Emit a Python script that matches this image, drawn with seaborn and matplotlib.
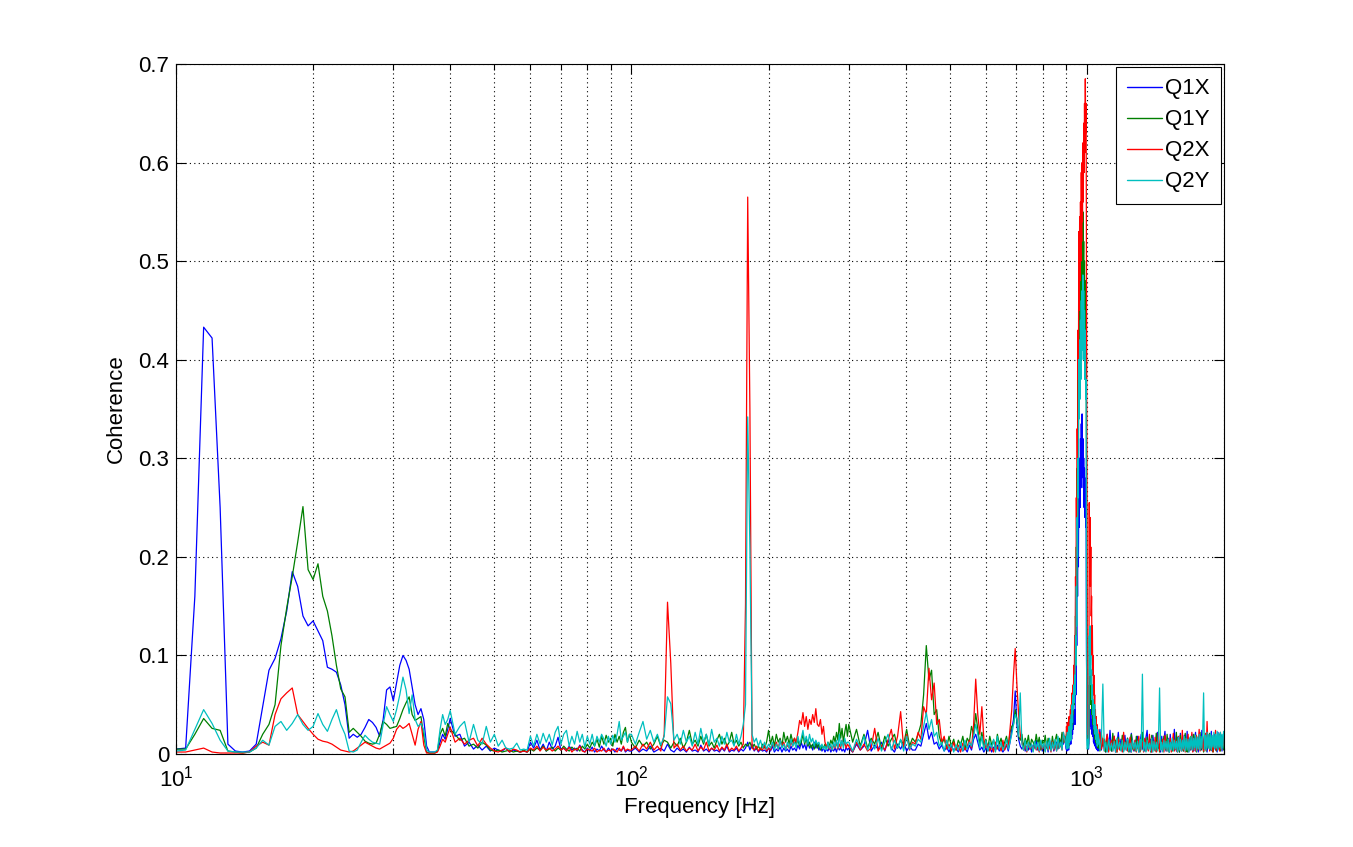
import numpy as np
import pandas as pd
import matplotlib
matplotlib.use("Agg")
import matplotlib.pyplot as plt
import seaborn as sns
from matplotlib.ticker import LogLocator, FixedLocator, FixedFormatter, NullFormatter

# ---------------- data (coherence values in thousandths) ----------------
series_names = ["Q1X", "Q1Y", "Q2X", "Q2Y"]
series_colors = ["#0000ff", "#007f00", "#ff0000", "#00bfbf"]

# frequency sample grids [Hz]
freq_low = np.arange(10.0, 40.01, 0.5)     # 61 samples
freq_mid1 = np.arange(41, 100, 1)          # 59 samples
freq_mid2 = np.arange(100, 299, 2)         # 100 samples
freq_high1 = np.arange(300, 895, 6)        # 100 samples
freq_peak = np.arange(900, 1059, 2)        # 80 samples
freq_high2 = np.arange(1060, 1997, 8)      # 118 samples

# ---- 10-40 Hz ----
q1x_low = [5, 6, 160, 433, 422, 250, 10, 3, 2, 3,
           10, 48, 85, 97, 117, 145, 185, 170, 140, 130,
           135, 125, 115, 88, 86, 83, 70, 50, 16, 20,
           17, 20, 27, 35, 32, 27, 18, 35, 65, 68,
           54, 72, 90, 100, 95, 86, 68, 50, 40, 46,
           35, 8, 2, 2, 2, 3, 12, 20, 15, 25,
           36]
q1y_low = [5, 5, 20, 36, 26, 24, 3, 2, 1, 2,
           6, 20, 30, 50, 110, 148, 180, 215, 251, 187,
           177, 193, 160, 145, 120, 90, 66, 58, 22, 26,
           22, 18, 13, 11, 10, 11, 20, 33, 30, 26,
           27, 28, 36, 45, 52, 58, 40, 34, 36, 38,
           18, 2, 1, 1, 1, 3, 20, 26, 18, 31,
           25]
q2x_low = [2, 2, 4, 6, 2, 1, 1, 1, 1, 2,
           8, 12, 9, 40, 56, 62, 67, 40, 33, 26,
           20, 15, 13, 12, 10, 7, 4, 3, 2, 3,
           6, 9, 12, 10, 8, 6, 5, 7, 9, 11,
           16, 25, 29, 26, 28, 31, 20, 9, 25, 33,
           9, 1, 1, 1, 1, 2, 8, 15, 12, 20,
           27]
q2y_low = [3, 4, 25, 45, 31, 14, 3, 2, 2, 2,
           6, 14, 9, 28, 33, 24, 31, 40, 30, 24,
           28, 41, 30, 23, 35, 45, 30, 20, 3, 2,
           4, 12, 19, 15, 12, 11, 10, 30, 48, 40,
           33, 45, 60, 78, 65, 41, 60, 35, 28, 31,
           24, 4, 2, 2, 2, 4, 25, 40, 30, 35,
           44]

# ---- 41-99 Hz ----
q1x_mid1 = [18, 20, 8, 12, 5, 9, 4, 8, 3, 6,
            4, 3, 6, 2, 4, 3, 2, 3, 2, 12,
            6, 14, 4, 10, 3, 12, 5, 8, 17, 4,
            6, 3, 8, 4, 6, 3, 9, 4, 2, 6,
            3, 7, 2, 5, 3, 8, 4, 2, 6, 3,
            5, 2, 6, 4, 3, 7, 2, 4, 3]
q1y_mid1 = [20, 14, 16, 8, 10, 6, 12, 9, 4, 3,
            4, 2, 3, 4, 2, 3, 2, 4, 2, 5,
            3, 6, 4, 8, 3, 5, 7, 3, 6, 4,
            8, 5, 3, 7, 4, 6, 3, 8, 5, 10,
            6, 12, 8, 15, 7, 18, 10, 19, 12, 16,
            8, 20, 12, 18, 10, 22, 27, 12, 20]
q2x_mid1 = [12, 16, 10, 14, 16, 8, 16, 10, 6, 3,
            2, 4, 6, 2, 5, 4, 2, 3, 2, 6,
            4, 8, 3, 7, 4, 6, 3, 5, 8, 4,
            6, 3, 7, 2, 5, 4, 8, 3, 2, 5,
            4, 3, 6, 2, 4, 3, 6, 2, 4, 3,
            5, 4, 2, 6, 3, 8, 3, 5, 4]
q2y_mid1 = [20, 28, 33, 12, 30, 14, 10, 28, 12, 20,
            8, 14, 6, 5, 6, 11, 4, 5, 4, 18,
            8, 20, 10, 21, 12, 20, 9, 22, 28, 10,
            20, 24, 8, 18, 10, 23, 12, 20, 7, 18,
            10, 20, 8, 18, 12, 20, 15, 8, 18, 10,
            19, 12, 20, 33, 14, 18, 22, 12, 20]

# ---- 100-298 Hz ----
q1x_mid2 = [3, 6, 2, 5, 3, 8, 2, 4, 6, 3,
            10, 4, 2, 6, 3, 5, 2, 7, 3, 4,
            2, 9, 3, 5, 2, 6, 3, 4, 2, 6,
            3, 8, 2, 4, 3, 6, 2, 5, 3, 6,
            12, 4, 10, 3, 6, 2, 5, 3, 4, 2,
            6, 3, 8, 2, 5, 3, 7, 2, 6, 3,
            5, 2, 8, 4, 6, 3, 9, 5, 12, 6,
            10, 4, 14, 6, 9, 4, 12, 6, 10, 4,
            8, 3, 6, 2, 5, 3, 7, 2, 5, 3,
            6, 2, 8, 4, 6, 3, 5, 2, 7, 4]
q1y_mid2 = [12, 6, 14, 8, 12, 5, 10, 18, 8, 14,
            12, 6, 12, 8, 16, 6, 12, 24, 10, 14,
            8, 18, 10, 20, 8, 12, 6, 14, 20, 10,
            16, 8, 12, 22, 10, 14, 8, 12, 6, 10,
            8, 12, 6, 10, 5, 8, 4, 10, 6, 12,
            24, 10, 18, 8, 20, 12, 16, 8, 22, 12,
            18, 10, 20, 12, 16, 10, 14, 8, 12, 20,
            10, 16, 8, 12, 6, 10, 5, 12, 6, 10,
            4, 8, 6, 10, 5, 12, 8, 14, 10, 18,
            12, 22, 14, 31, 16, 26, 12, 22, 30, 18]
q2x_mid2 = [4, 8, 3, 10, 5, 12, 4, 8, 3, 20,
            154, 92, 6, 10, 4, 8, 3, 6, 4, 10,
            3, 7, 4, 12, 3, 6, 4, 9, 3, 7,
            4, 10, 3, 6, 4, 8, 3, 6, 10, 152,
            565, 350, 6, 4, 8, 3, 6, 4, 9, 3,
            6, 4, 10, 6, 12, 5, 14, 8, 12, 5,
            9, 6, 12, 8, 16, 12, 22, 34, 30, 42,
            28, 38, 25, 35, 30, 40, 32, 46, 30, 28,
            35, 20, 28, 12, 8, 10, 5, 8, 4, 10,
            6, 12, 5, 10, 6, 14, 8, 12, 6, 10]
q2y_mid2 = [20, 10, 22, 33, 15, 24, 12, 20, 9, 18,
            58, 51, 14, 20, 10, 24, 12, 18, 8, 22,
            10, 26, 12, 20, 9, 25, 12, 16, 8, 18,
            10, 22, 12, 14, 8, 20, 10, 18, 30, 50,
            342, 208, 20, 12, 16, 8, 14, 6, 12, 5,
            10, 6, 12, 4, 10, 5, 14, 6, 10, 4,
            12, 6, 15, 8, 12, 6, 18, 10, 16, 24,
            12, 18, 10, 20, 12, 16, 8, 14, 10, 12,
            6, 10, 5, 8, 4, 12, 6, 10, 4, 12,
            7, 14, 6, 20, 8, 14, 6, 16, 10, 12]

# ---- 300-894 Hz ----
q1x_high1 = [6, 2, 10, 4, 8, 24, 3, 9, 5, 12,
             3, 14, 6, 2, 10, 5, 12, 3, 8, 4,
             4, 10, 8, 20, 31, 15, 22, 10, 12, 5,
             9, 3, 7, 2, 8, 4, 6, 2, 8, 3,
             6, 2, 9, 4, 15, 20, 12, 4, 7, 2,
             6, 3, 8, 2, 7, 4, 9, 3, 6, 2,
             5, 9, 3, 12, 25, 35, 64, 30, 15, 8,
             5, 10, 3, 8, 4, 11, 2, 9, 6, 14,
             4, 8, 12, 3, 9, 5, 11, 2, 14, 6,
             10, 3, 8, 12, 5, 15, 9, 20, 10, 18]
q1y_high1 = [30, 12, 25, 8, 20, 6, 16, 10, 22, 5,
             18, 8, 15, 20, 6, 14, 10, 25, 8, 16,
             12, 20, 30, 60, 110, 75, 85, 40, 45, 18,
             10, 16, 6, 18, 8, 15, 4, 14, 9, 18,
             5, 16, 12, 28, 20, 41, 25, 10, 22, 8,
             15, 6, 18, 9, 14, 4, 20, 10, 16, 6,
             12, 18, 8, 22, 28, 30, 45, 35, 18, 14,
             20, 6, 16, 10, 19, 5, 15, 12, 8, 20,
             10, 17, 4, 14, 9, 19, 6, 16, 11, 5,
             18, 8, 14, 20, 6, 16, 10, 22, 12, 18]
q2x_high1 = [8, 2, 12, 4, 10, 3, 6, 26, 3, 9,
             4, 14, 25, 5, 18, 43, 6, 20, 4, 12,
             10, 22, 15, 48, 40, 87, 55, 72, 30, 35,
             12, 18, 5, 10, 3, 12, 4, 9, 2, 11,
             4, 8, 14, 6, 30, 76, 40, 20, 48, 15,
             6, 10, 3, 8, 2, 12, 5, 9, 3, 14,
             4, 10, 6, 25, 45, 80, 107, 70, 40, 20,
             12, 4, 9, 2, 11, 5, 8, 3, 10, 4,
             7, 2, 12, 5, 9, 3, 11, 4, 8, 2,
             13, 4, 9, 3, 15, 6, 10, 4, 22, 12]
q2y_high1 = [12, 3, 15, 6, 18, 4, 14, 5, 16, 3,
             12, 20, 4, 14, 6, 15, 3, 18, 5, 10,
             8, 15, 12, 28, 42, 25, 35, 18, 22, 8,
             12, 3, 14, 5, 10, 2, 9, 4, 12, 3,
             14, 5, 12, 8, 18, 30, 20, 6, 18, 4,
             14, 3, 12, 6, 15, 2, 18, 5, 12, 4,
             8, 15, 5, 12, 20, 30, 40, 35, 18, 62,
             10, 4, 14, 3, 12, 6, 10, 2, 13, 5,
             12, 3, 14, 6, 11, 2, 13, 4, 16, 3,
             12, 5, 15, 3, 18, 6, 12, 4, 22, 15]

# ---- 900-1058 Hz (main resonance) ----
q1x_peak = [5, 14, 3, 18, 8, 12, 4, 20, 9, 15,
            20, 10, 25, 15, 30, 20, 35, 25, 45, 30,
            45, 30, 90, 60, 150, 110, 200, 160, 230, 190,
            280, 230, 300, 250, 320, 270, 335, 280, 345, 290,
            320, 270, 300, 250, 290, 240, 280, 230, 250, 100,
            50, 15, 8, 12, 5, 10, 50, 30, 45, 28,
            45, 25, 35, 20, 30, 18, 25, 12, 22, 10,
            25, 8, 20, 6, 18, 5, 15, 4, 14, 3]
q1y_peak = [10, 20, 6, 24, 12, 18, 8, 30, 14, 22,
            30, 15, 35, 25, 45, 30, 55, 40, 70, 50,
            90, 60, 140, 100, 210, 160, 290, 240, 380, 320,
            470, 400, 490, 430, 510, 450, 530, 470, 540, 480,
            550, 490, 520, 470, 500, 440, 480, 420, 450, 300,
            120, 30, 12, 25, 10, 20, 70, 50, 80, 55,
            80, 50, 65, 40, 55, 30, 45, 25, 35, 20,
            30, 15, 25, 12, 22, 10, 20, 8, 18, 6]
q2x_peak = [12, 28, 8, 32, 15, 25, 10, 38, 18, 30,
            45, 22, 50, 35, 62, 40, 70, 55, 90, 65,
            120, 85, 180, 140, 260, 200, 330, 280, 430, 380,
            530, 450, 545, 480, 560, 500, 590, 520, 600, 540,
            620, 560, 640, 590, 660, 610, 685, 630, 660, 500,
            300, 60, 20, 35, 15, 30, 255, 180, 240, 170,
            210, 140, 160, 100, 130, 80, 100, 60, 80, 45,
            60, 30, 45, 20, 38, 15, 30, 12, 25, 10]
q2y_peak = [8, 18, 5, 22, 10, 16, 6, 28, 12, 20,
            35, 14, 40, 25, 50, 32, 60, 45, 70, 52,
            80, 60, 120, 90, 170, 130, 240, 200, 300, 260,
            400, 340, 420, 360, 440, 380, 460, 400, 470, 410,
            486, 420, 470, 400, 450, 380, 430, 360, 380, 120,
            10, 5, 8, 15, 6, 20, 120, 80, 130, 90,
            100, 70, 85, 55, 70, 40, 55, 30, 45, 25,
            50, 20, 35, 15, 28, 12, 25, 8, 20, 10]

# ---- 1060-1996 Hz ----
q1x_high2 = [10, 25, 4, 14, 8, 2, 20, 6, 24, 3,
             12, 18, 2, 9, 22, 5, 15, 3, 11, 19,
             4, 16, 7, 2, 21, 10, 3, 14, 6, 18,
             2, 12, 20, 5, 9, 3, 17, 24, 4, 11,
             15, 2, 19, 7, 13, 3, 22, 6, 10, 2,
             18, 5, 14, 23, 3, 9, 16, 2, 20, 7,
             12, 4, 25, 8, 3, 17, 10, 2, 21, 6,
             14, 3, 19, 9, 5, 23, 2, 12, 16, 4,
             20, 7, 3, 15, 22, 5, 11, 2, 18, 9,
             4, 24, 13, 3, 17, 6, 21, 2, 10, 19,
             5, 14, 23, 3, 12, 8, 20, 4, 16, 2,
             22, 9, 13, 5, 19, 3, 15, 11]
q1y_high2 = [12, 3, 20, 8, 15, 2, 18, 5, 11, 3,
             21, 6, 14, 2, 17, 9, 4, 19, 3, 13,
             7, 16, 2, 12, 20, 5, 10, 3, 18, 6,
             14, 2, 11, 22, 4, 15, 3, 17, 8, 12,
             2, 19, 6, 13, 3, 21, 5, 10, 2, 16,
             8, 3, 18, 12, 4, 20, 7, 2, 14, 9,
             3, 17, 11, 5, 22, 4, 13, 2, 19, 7,
             15, 3, 12, 21, 6, 2, 16, 9, 4, 18,
             10, 3, 20, 7, 14, 2, 17, 5, 12, 22,
             4, 15, 8, 2, 19, 11, 3, 16, 6, 13,
             21, 4, 14, 9, 2, 18, 7, 12, 3, 17,
             10, 5, 20, 3, 15, 8, 13, 4]
q2x_high2 = [14, 22, 5, 16, 3, 12, 20, 2, 9, 14,
             3, 18, 6, 2, 15, 4, 10, 2, 22, 5,
             12, 3, 8, 17, 2, 11, 4, 14, 2, 9,
             18, 3, 7, 12, 2, 16, 5, 10, 3, 20,
             6, 2, 13, 4, 17, 2, 9, 22, 3, 11,
             5, 15, 2, 19, 6, 3, 12, 4, 16, 2,
             10, 21, 3, 14, 5, 2, 18, 7, 12, 3,
             24, 4, 11, 2, 16, 6, 20, 3, 13, 5,
             22, 2, 15, 7, 3, 19, 4, 12, 25, 3,
             14, 6, 18, 3, 10, 21, 4, 33, 8, 15,
             3, 20, 6, 12, 2, 17, 9, 24, 4, 14,
             7, 19, 3, 22, 5, 15, 8, 18]
q2y_high2 = [20, 4, 14, 71, 3, 12, 2, 15, 4, 11,
             3, 13, 2, 16, 5, 12, 3, 14, 2, 12,
             4, 15, 3, 11, 2, 14, 5, 12, 3, 13,
             2, 15, 4, 81, 3, 12, 2, 14, 5, 11,
             3, 16, 2, 13, 4, 12, 3, 15, 67, 4,
             12, 2, 14, 5, 13, 3, 15, 2, 12, 4,
             16, 3, 14, 5, 13, 2, 17, 4, 15, 3,
             14, 5, 18, 3, 16, 4, 15, 2, 17, 5,
             18, 4, 16, 6, 19, 3, 17, 5, 20, 4,
             18, 6, 21, 62, 5, 19, 4, 22, 6, 20,
             5, 21, 4, 19, 7, 22, 5, 20, 6, 23,
             4, 21, 7, 22, 5, 20, 6, 23]

# ---------------- assemble ----------------
freq = np.concatenate([freq_low, freq_mid1, freq_mid2, freq_high1, freq_peak, freq_high2])
values = {
    "Q1X": q1x_low + q1x_mid1 + q1x_mid2 + q1x_high1 + q1x_peak + q1x_high2,
    "Q1Y": q1y_low + q1y_mid1 + q1y_mid2 + q1y_high1 + q1y_peak + q1y_high2,
    "Q2X": q2x_low + q2x_mid1 + q2x_mid2 + q2x_high1 + q2x_peak + q2x_high2,
    "Q2Y": q2y_low + q2y_mid1 + q2y_mid2 + q2y_high1 + q2y_peak + q2y_high2,
}
frames = []
for name in series_names:
    v = np.asarray(values[name], dtype=float) / 1000.0
    assert len(v) == len(freq), (name, len(v), len(freq))
    frames.append(pd.DataFrame({"Frequency": freq, "Coherence": v, "Signal": name}))
df = pd.concat(frames, ignore_index=True)

# ---------------- style ----------------
sns.set_style("white")
plt.rcParams["font.family"] = ["Liberation Sans", "DejaVu Sans"]
plt.rcParams["mathtext.fontset"] = "custom"
plt.rcParams["mathtext.rm"] = "Liberation Sans"
plt.rcParams["mathtext.it"] = "Liberation Sans"
for key in ["text.color", "axes.labelcolor", "xtick.color", "ytick.color", "axes.edgecolor"]:
    plt.rcParams[key] = "black"

fig = plt.figure(figsize=(13.53, 8.47), dpi=100)
ax = fig.add_axes([176 / 1353, 1 - 754 / 847, 1048 / 1353, 690 / 847])

sns.lineplot(data=df, x="Frequency", y="Coherence", hue="Signal",
             hue_order=series_names, palette=series_colors,
             estimator=None, sort=False, linewidth=0.9, legend=False, ax=ax)

ax.set_xscale("log")
ax.set_xlim(10, 2000)
ax.set_ylim(0, 0.7)

yt = [0, 0.1, 0.2, 0.3, 0.4, 0.5, 0.6, 0.7]
ax.yaxis.set_major_locator(FixedLocator(yt))
ax.yaxis.set_major_formatter(FixedFormatter(["0", "0.1", "0.2", "0.3", "0.4", "0.5", "0.6", "0.7"]))
ax.xaxis.set_major_locator(LogLocator(base=10, numticks=10))
ax.xaxis.set_minor_locator(LogLocator(base=10, subs=np.arange(2, 10), numticks=20))
ax.xaxis.set_minor_formatter(NullFormatter())

dot = (0, (1, 3))
ax.grid(True, which="major", axis="both", color="black", linestyle=dot, linewidth=0.8)
ax.grid(True, which="minor", axis="x", color="black", linestyle=dot, linewidth=0.8)

ax.tick_params(which="both", direction="in", top=True, right=True, bottom=True, left=True,
               colors="black", labelcolor="black", labelsize=16, width=0.8)
ax.tick_params(which="major", length=7, pad=5)
ax.tick_params(which="minor", length=4)
ax.tick_params(axis="x", which="major", pad=8)
for s in ax.spines.values():
    s.set_visible(True)
    s.set_color("black")
    s.set_linewidth(0.8)

ax.set_xlabel("Frequency [Hz]", fontsize=16, labelpad=4, color="black")
ax.set_ylabel("Coherence", fontsize=16, labelpad=8, color="black")

leg = ax.legend(ax.lines[:4], series_names, loc="upper right", fontsize=16,
                frameon=True, fancybox=False, shadow=False, framealpha=1,
                edgecolor="black", borderaxespad=0.15, handlelength=1.55,
                handletextpad=0.15, labelspacing=0.45, borderpad=0.5)
leg.get_frame().set_linewidth(0.8)
for line in leg.get_lines():
    line.set_linewidth(1.0)

fig.savefig("out.png", dpi=100, facecolor="white")
